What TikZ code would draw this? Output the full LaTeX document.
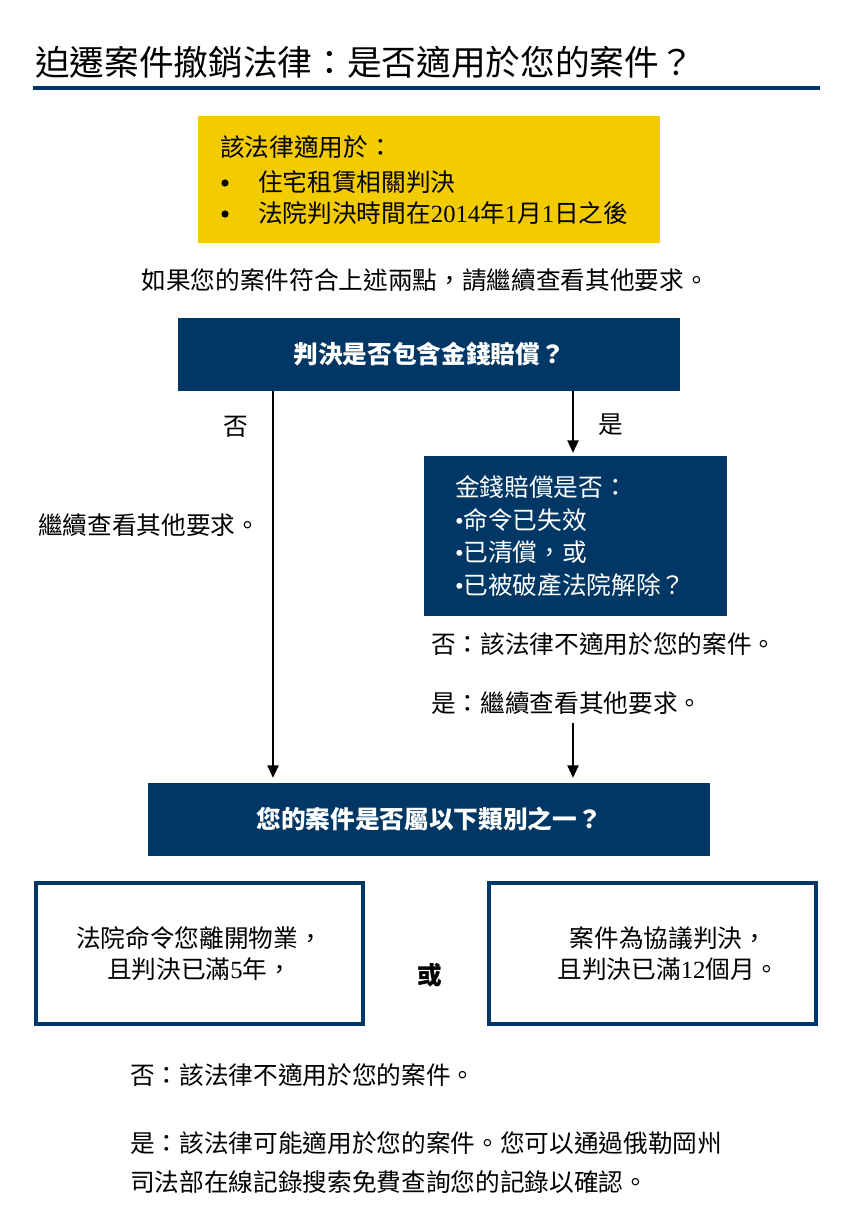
\documentclass[tikz,border=0pt]{standalone}
\usepackage{fontspec}
\setmainfont{Liberation Serif}
\newfontfamily\cjk{Noto Sans CJK TC}
\usetikzlibrary{arrows.meta}
\definecolor{navy}{RGB}{0,55,100}
\definecolor{gold}{RGB}{242,203,0}
\newcommand{\lat}[1]{{\rmfamily #1}}

\begin{document}
\begin{tikzpicture}[x=0.75pt,y=0.75pt,yscale=-1,xscale=1,
  every node/.style={font=\cjk\fontsize{18.5}{24}\selectfont, inner sep=0.75pt},
  navybox/.style={fill=navy, text=white, font=\cjk\bfseries\fontsize{18.5}{24}\selectfont},
  outlinebox/.style={draw=navy, line width=3pt, align=center, font=\cjk\fontsize{18.5}{23.25}\selectfont},
  flowarrow/.style={line width=2.1pt, -{Triangle[length=9.5pt,width=8pt]}}]
\useasboundingbox (0,0) rectangle (849,1230);

% Title
\node (title) [anchor=west, font=\cjk\fontsize{26}{30}\selectfont] at (34,62) {迫遷案件撤銷法律：是否適用於您的案件？};
%Straight Lines
\draw [navy, line width=2.4pt] (33,88) -- (820,88);

%Shape: Rectangle
\node (scope) [fill=gold, minimum width=346.5pt, minimum height=95.25pt] at (429,179.5) {};
% Text Node
\node (ylaw) [anchor=west] at (219,147) {該法律適用於：};
\node (yitem1) [anchor=west] at (257,182) {住宅租賃相關判決};
\node (yitem2) [anchor=west] at (257,213) {法院判決時間在\lat{2014}年\lat{1}月\lat{1}日之後};
%Shape: Circle
\fill (225,183) circle (3.6);
\fill (225,214) circle (3.6);
% Text Node
\node (both) at (425,280) {如果您的案件符合上述兩點，請繼續查看其他要求。};

%Shape: Rectangle
\node (money) [navybox, minimum width=376.5pt, minimum height=54.75pt] at (429,354.5) {判決是否包含金錢賠償？};
\coordinate (lx) at (273,0);
\coordinate (rx) at (573,0);

% Text Node
\node (no1) at (236,427) {否};
\node (yes1) at (611,425) {是};
\node (goon) [anchor=west] at (37,525) {繼續查看其他要求。};

%Shape: Rectangle
\node (paid) [navybox, font=\cjk\fontsize{18.5}{24.4}\selectfont, align=left, text width=180.75pt, inner xsep=23.25pt, minimum height=120pt] at (575.5,536) {金錢賠償是否：\\\lat{•}命令已失效\\\lat{•}已清償，或\\\lat{•}已被破產法院解除？};

% Text Node
\node (no2) [anchor=west] at (430,644) {否：該法律不適用於您的案件。};
\node (yes2) [anchor=west] at (430,703) {是：繼續查看其他要求。};
\coordinate (yesgo) at (573,723);

%Shape: Rectangle
\node (kind) [navybox, minimum width=421.5pt, minimum height=54.75pt] at (429,819.5) {您的案件是否屬以下類別之一？};

%Shape: Rectangle
\node (leave) [outlinebox, minimum width=245.25pt, minimum height=105.75pt] at (199.5,953.5) {法院命令您離開物業，\\且判決已滿\lat{5}年，};
\node (agree) [outlinebox, minimum width=245.25pt, minimum height=105.75pt] at (652.5,953.5) {\hspace{24pt}案件為協議判決，\\\hspace{24pt}且判決已滿\lat{12}個月。};
% Text Node
\node (or) [font=\cjk\bfseries\fontsize{18.5}{24}\selectfont] at (430,975) {或};

% Text Node
\node (no3) [anchor=west] at (129,1075) {否：該法律不適用於您的案件。};
\node (yes3) [anchor=west, align=left, font=\cjk\fontsize{18.5}{29.25}\selectfont] at (129,1162.5) {是：該法律可能適用於您的案件。您可以通過俄勒岡州\\司法部在線記錄搜索免費查詢您的記錄以確認。};

% Arrows
\draw [flowarrow, shorten >=3.5pt] (money.south -| lx) -- (kind.north -| lx);
\draw [flowarrow, shorten >=2pt] (money.south -| rx) -- (paid.north -| rx);
\draw [flowarrow, shorten >=3.5pt] (yesgo) -- (kind.north -| rx);

\end{tikzpicture}
\end{document}
